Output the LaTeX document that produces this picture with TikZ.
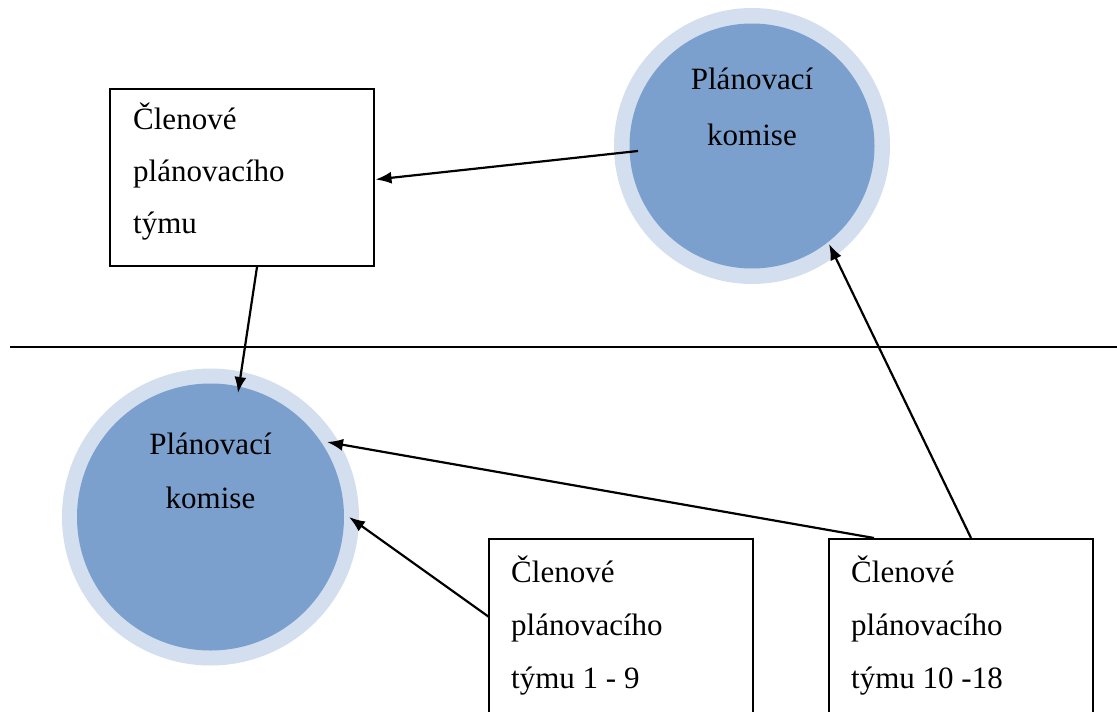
\documentclass[tikz,border=0pt]{standalone}
\usepackage{fontspec}
\setmainfont{Liberation Serif}
\newfontfamily\labelfont{Liberation Serif}
\usetikzlibrary{calc,arrows.meta}
\definecolor{ringfill}{RGB}{211,223,238}
\definecolor{discfill}{RGB}{123,160,205}
\begin{document}
\begin{tikzpicture}[x=1pt,y=-1pt,
  ring/.style={circle,fill=ringfill,inner sep=0pt,minimum size=#1},
  disc/.style={circle,fill=discfill,inner sep=0pt,minimum size=#1},
  stepbox/.style={draw=black,fill=white,line width=2pt,minimum width=264pt,minimum height=177pt,inner sep=0pt},
  txt/.style={font=\labelfont\fontsize{31}{52}\selectfont,inner sep=0pt},
  link/.style={line width=2.2pt,-{Latex[length=16pt,width=12pt]}},
  divider/.style={line width=2pt}
]
\useasboundingbox (0,0) rectangle (1117,712);
\clip (0,0) rectangle (1117,712);

% dividing line
\coordinate (lineA) at (10,347);
\coordinate (lineB) at (1117,347);
\draw[divider] (lineA) -- (lineB);

% upper planning committee
\node[ring=276pt] (topR) at (752,146) {};
\node[disc=245pt] (topD) at (752,146) {};
\node[txt,anchor=base] (topT1) at (752,89) {Plánovací};
\node[txt,anchor=base] (topT2) at (752,145) {komise};

% lower planning committee
\node[ring=297pt] (botR) at (210.5,517) {};
\node[disc=267pt] (botD) at (210.5,517) {};
\node[txt,anchor=base] (botT1) at (210.5,454) {Plánovací};
\node[txt,anchor=base] (botT2) at (210.5,508) {komise};

% team member boxes
\node[stepbox] (tbox) at (241.5,177.5) {};
\node[txt,anchor=base west] (tboxL1) at (133,129) {Členové};
\node[txt,anchor=base west] (tboxL2) at (133,181) {plánovacího};
\node[txt,anchor=base west] (tboxL3) at (133,233) {týmu};

\node[stepbox] (box1) at (621,627.5) {};
\node[txt,anchor=base west] (box1L1) at (511,582) {Členové};
\node[txt,anchor=base west] (box1L2) at (511,635) {plánovacího};
\node[txt,anchor=base west] (box1L3) at (511,688) {týmu 1 - 9};

\node[stepbox] (box2) at (961,627.5) {};
\node[txt,anchor=base west] (box2L1) at (851,582) {Členové};
\node[txt,anchor=base west] (box2L2) at (851,635) {plánovacího};
\node[txt,anchor=base west] (box2L3) at (851,688) {týmu 10 -18};

% connectors
\draw[link] ($(topR.center)+(-114,5)$) -- ($(tbox.east)+(1,2)$);
\draw[link] ($(tbox.south)+(15.5,0)$) -- ($(botR.center)+(27.5,-124)$);
\draw[link] ($(box2.north west)+(46,0)$) -- ($(botR.center)+(116.5,-75)$);
\draw[link] ($(box1.west)+(1,-10.5)$) -- ($(botR.center)+(138.5,0)$);
\draw[link] ($(box2.north west)+(143,0)$) -- ($(topR.center)+(77,98)$);
\end{tikzpicture}
\end{document}
